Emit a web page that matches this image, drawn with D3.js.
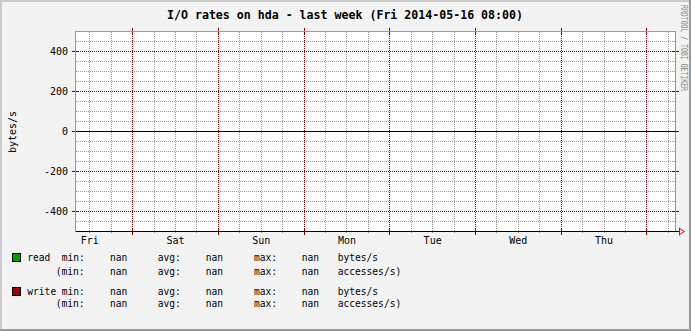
<!DOCTYPE html>
<html>
<head>
<meta charset="utf-8">
<script src="https://cdn.jsdelivr.net/npm/d3@7"></script>
<style>
  body { margin: 0; background: #fff; }
  text { font-family: "DejaVu Sans Mono", monospace; fill: #000; }
  line, path.frame { shape-rendering: crispEdges; }
</style>
</head>
<body>
<div id="chart"></div>
<script>
// data
const title = "I/O rates on hda - last week (Fri 2014-05-16 08:00)";
const startTime = new Date(2014, 4, 9, 8, 0);
const endTime = new Date(2014, 4, 16, 8, 0);
const dayLabels = ["Fri", "Sat", "Sun", "Mon", "Tue", "Wed", "Thu"];
const yTicks = [-400, -200, 0, 200, 400];
const seriesNames = ["read", "write"];
const seriesColors = ["#00a000", "#a00000"];
const readValues = [NaN, NaN, NaN, NaN, NaN, NaN, NaN, NaN];
const writeValues = [NaN, NaN, NaN, NaN, NaN, NaN, NaN, NaN];
const statNames = ["min:", "avg:", "max:"];
const readStats = ["nan", "nan", "nan"];
const writeStats = ["nan", "nan", "nan"];
const accessStats = ["nan", "nan", "nan"];
const units = ["bytes/s", "accesses/s)"];

const W = 691, H = 331;
const x = d3.scaleTime().domain([startTime, endTime]).range([75.5, 675.5]);
const y = d3.scaleLinear().domain([-500, 500]).range([231.5, 31.5]);
const px = v => Math.round(v - 0.5) + 0.5;

const svg = d3.select("#chart").append("svg")
  .attr("width", W).attr("height", H);

// canvas + frame
svg.append("rect").attr("width", W).attr("height", H).attr("fill", "#f3f3f3");
svg.append("path").attr("class", "frame").attr("d", `M1,${H} V1 H${W}`).attr("stroke", "#cbcbcb").attr("stroke-width", 2).attr("fill", "none");
svg.append("path").attr("class", "frame").attr("d", `M0,${H - 1} H${W - 1} V0`).attr("stroke", "#999").attr("stroke-width", 2).attr("fill", "none");

// plot area
svg.append("rect")
  .attr("x", x.range()[0]).attr("y", y.range()[1])
  .attr("width", x.range()[1] - x.range()[0]).attr("height", y.range()[0] - y.range()[1])
  .attr("fill", "#fff");

const grid = svg.append("g");
const minorColor = "#999", majorColor = "#7a0000";

// minor grid
const yMinor = d3.range(-450, 500, 50).filter(v => v % 200 !== 0);
grid.selectAll("line.ymin").data(yMinor).enter().append("line")
  .attr("x1", 76).attr("x2", 675)
  .attr("y1", d => px(y(d))).attr("y2", d => px(y(d)))
  .attr("stroke", minorColor).attr("stroke-dasharray", "1,1");

const xMinor = d3.timeHour.every(6).range(startTime, endTime).filter(d => d.getHours() !== 0);
grid.selectAll("line.xmin").data(xMinor).enter().append("line")
  .attr("x1", d => px(x(d))).attr("x2", d => px(x(d)))
  .attr("y1", 32).attr("y2", 233)
  .attr("stroke", minorColor).attr("stroke-dasharray", "1,1");

// major grid
grid.selectAll("line.ymaj").data(yTicks.filter(v => v !== 0)).enter().append("line")
  .attr("x1", 72).attr("x2", 679)
  .attr("y1", d => px(y(d))).attr("y2", d => px(y(d)))
  .attr("stroke", majorColor).attr("stroke-dasharray", "1,1");

const xMajor = d3.timeDay.range(startTime, endTime);
grid.selectAll("line.xmaj").data(xMajor).enter().append("line")
  .attr("x1", d => px(x(d))).attr("x2", d => px(x(d)))
  .attr("y1", 28).attr("y2", 235)
  .attr("stroke", majorColor).attr("stroke-dasharray", "1,1");

// solid ticks on the axes
grid.selectAll("line.ytk").data(yTicks).enter().append("line")
  .attr("x1", 72).attr("x2", 78)
  .attr("y1", d => px(y(d))).attr("y2", d => px(y(d)))
  .attr("stroke", majorColor);
grid.selectAll("line.ytk2").data(yTicks).enter().append("line")
  .attr("x1", 673).attr("x2", 679)
  .attr("y1", d => px(y(d))).attr("y2", d => px(y(d)))
  .attr("stroke", majorColor);
grid.selectAll("line.xtk").data(xMajor).enter().append("line")
  .attr("x1", d => px(x(d))).attr("x2", d => px(x(d)))
  .attr("y1", 229).attr("y2", 235)
  .attr("stroke", majorColor);
grid.selectAll("line.xtk2").data(xMajor).enter().append("line")
  .attr("x1", d => px(x(d))).attr("x2", d => px(x(d)))
  .attr("y1", 28).attr("y2", 34)
  .attr("stroke", majorColor);

// frame lines
svg.append("path").attr("class", "frame")
  .attr("d", `M${x.range()[0]},${y.range()[0]} V${y.range()[1]} H${x.range()[1]} V${y.range()[0]}`)
  .attr("stroke", "#999").attr("fill", "none");
svg.append("line")
  .attr("x1", x.range()[0]).attr("x2", x.range()[1] + 3)
  .attr("y1", y.range()[0]).attr("y2", y.range()[0])
  .attr("stroke", "#000");
svg.append("line")
  .attr("x1", x.range()[0]).attr("x2", x.range()[1])
  .attr("y1", px(y(0))).attr("y2", px(y(0)))
  .attr("stroke", "#000");

// arrow at end of x axis
const ax = x.range()[1] + 4, ay = y.range()[0];
svg.append("path")
  .attr("d", `M${ax},${ay - 4} V${ay + 4} M${ax},${ay - 3} L${ax + 5},${ay} L${ax},${ay + 3}`)
  .attr("stroke", "#f00").attr("fill", "none");

// series (no data -> nothing drawn)
const line = d3.line()
  .defined(d => !isNaN(d.v))
  .x(d => x(d.t)).y(d => y(d.v));
[readValues, writeValues].forEach((vals, i) => {
  const pts = vals.map((v, k) => ({t: d3.timeDay.offset(startTime, k), v}));
  svg.append("path").datum(pts).attr("d", line)
    .attr("fill", "none").attr("stroke", seriesColors[i]);
});

// y labels
svg.selectAll("text.ylab").data(yTicks).enter().append("text")
  .attr("x", 68).attr("y", d => y(d))
  .attr("dy", "0.35em").attr("text-anchor", "end")
  .attr("font-size", 10)
  .text(d => d < 0 ? "-" + Math.abs(d) : d);

// x labels at noon
svg.selectAll("text.xlab").data(xMajor.map(d => d3.timeHour.offset(d, -12)).concat([d3.timeHour.offset(xMajor[xMajor.length - 1], 12)])).enter().append("text")
  .attr("x", d => x(d)).attr("y", 240)
  .attr("dy", "0.35em").attr("text-anchor", "middle")
  .attr("font-size", 10)
  .text(d => dayLabels[d3.timeDay.count(d3.timeDay.floor(startTime), d)]);

// title
svg.append("text").attr("x", 345).attr("y", 15)
  .attr("dy", "0.35em").attr("text-anchor", "middle")
  .attr("font-size", 11.6).attr("font-weight", "bold")
  .text(title);

// y axis title
svg.append("text")
  .attr("transform", "translate(12,132) rotate(-90)")
  .attr("dy", "0.35em").attr("text-anchor", "middle")
  .attr("font-size", 10)
  .text("bytes/s");

// watermark
svg.append("text")
  .attr("transform", "translate(683.5,5) rotate(90)")
  .attr("dy", "0.35em")
  .attr("font-size", 8).style("fill", "#888")
  .attr("textLength", 86).attr("lengthAdjust", "spacingAndGlyphs")
  .text("RRDTOOL / TOBI OETIKER");

// legend
const colX = [61.7, 110, 157.7, 205.7, 254, 301.7, 337.7];
const rows = [
  {y: 258, name: seriesNames[0], stats: readStats, unit: units[0], box: 0},
  {y: 272, name: null, stats: accessStats, unit: units[1]},
  {y: 292, name: seriesNames[1], stats: writeStats, unit: units[0], box: 1},
  {y: 304, name: null, stats: accessStats, unit: units[1]}
];
const lg = svg.append("g").attr("font-size", 9.6);
rows.forEach(r => {
  if (r.name) {
    lg.append("rect").attr("x", 12.5).attr("y", r.y - 4.5).attr("width", 8).attr("height", 8)
      .attr("fill", seriesColors[r.box]).attr("stroke", "#000");
    lg.append("text").attr("x", 27.3).attr("y", r.y).attr("dy", "0.35em").text(r.name);
  }
  const tokens = [];
  statNames.forEach((s, k) => {
    tokens.push(k === 0 && !r.name ? "(" + s : s);
    tokens.push(r.stats[k]);
  });
  tokens.push(r.unit);
  tokens.forEach((t, k) => {
    const xx = (k === 0 && !r.name) ? colX[0] - 6 : colX[k];
    lg.append("text").attr("x", xx).attr("y", r.y).attr("dy", "0.35em").text(t);
  });
});
</script>
</body>
</html>
